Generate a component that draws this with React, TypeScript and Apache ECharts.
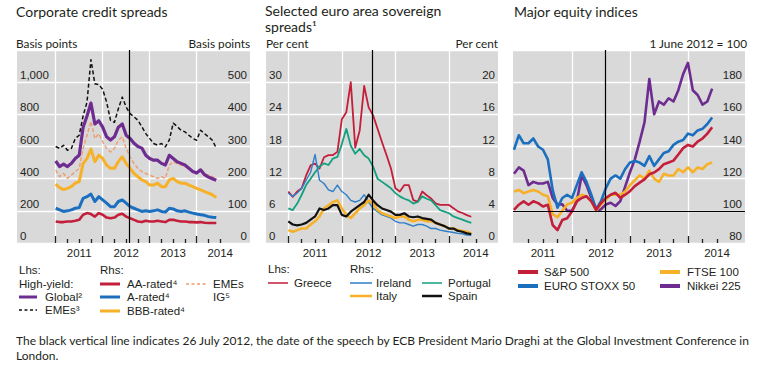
import React, { useEffect, useRef } from "react";
import * as echarts from "echarts";

// ---------- data ----------
const months = [
  "2011-01", "2011-02", "2011-03", "2011-04", "2011-05", "2011-06", "2011-07", "2011-08", "2011-09", "2011-10", "2011-11", "2011-12",
  "2012-01", "2012-02", "2012-03", "2012-04", "2012-05", "2012-06", "2012-07", "2012-08", "2012-09", "2012-10", "2012-11", "2012-12",
  "2013-01", "2013-02", "2013-03", "2013-04", "2013-05", "2013-06", "2013-07", "2013-08", "2013-09", "2013-10", "2013-11", "2013-12",
  "2014-01", "2014-02", "2014-03", "2014-04", "2014-05", "2014-06",
];
const draghiSpeech = "2012-07-26";

// Panel 1: corporate credit spreads (basis points)
const globalHY = [510, 475, 490, 475, 495, 525, 545, 720, 790, 870, 740, 760, 720, 660, 640, 660, 720, 740, 670, 650, 620, 600, 590, 545, 525, 515, 515, 495, 485, 545, 525, 505, 495, 485, 465, 445, 435, 455, 425, 410, 400, 390];
const emesHY = [600, 588, 608, 577, 588, 650, 670, 790, 876, 1140, 990, 985, 955, 876, 763, 750, 835, 907, 845, 804, 784, 763, 722, 680, 650, 619, 608, 619, 598, 640, 745, 725, 701, 691, 670, 650, 639, 701, 680, 660, 639, 590];
const aaRated = [67, 65, 65, 67, 67, 69, 72, 88, 93, 90, 82, 93, 88, 79, 77, 79, 88, 91, 82, 77, 72, 67, 65, 69, 67, 67, 69, 67, 65, 72, 72, 69, 67, 67, 65, 65, 64, 65, 63, 62, 62, 62];
const aRated = [108, 103, 98, 100, 103, 108, 110, 139, 144, 152, 129, 144, 134, 124, 113, 113, 129, 134, 124, 113, 108, 103, 98, 100, 98, 100, 103, 98, 96, 108, 106, 100, 98, 100, 96, 93, 90, 88, 86, 82, 80, 79];
const bbbRated = [183, 172, 166, 170, 175, 186, 191, 247, 263, 292, 253, 273, 263, 242, 232, 232, 253, 268, 247, 232, 216, 206, 196, 191, 180, 180, 186, 175, 175, 196, 201, 191, 186, 186, 180, 175, 170, 165, 160, 155, 150, 141];
const emesIG = [227, 206, 216, 201, 211, 222, 232, 294, 335, 378, 325, 340, 314, 294, 283, 294, 320, 330, 294, 268, 247, 232, 222, 216, 211, 206, 201, 206, 201, 242, 253, 247, 242, 237, 232, 222, 220, 227, 216, 211, 206, 201];

// Panel 2: sovereign spreads (per cent)
const greece = [9.6, 8.6, 9.6, 10.2, 12.6, 14.5, 14.8, 13.9, 16.0, 16.4, 16.4, 17.0, 23.1, 24.4, 30.0, 17.8, 21.0, 29.3, 25.3, 23.8, 21.3, 18.8, 16.4, 13.9, 10.2, 9.6, 10.8, 10.8, 8.0, 7.7, 9.6, 8.9, 8.3, 7.4, 7.1, 7.1, 7.1, 6.5, 5.9, 5.6, 5.2, 4.9];
const ireland = [6.2, 5.8, 6.2, 6.8, 7.8, 8.8, 11.0, 7.8, 7.4, 6.6, 6.4, 7.2, 6.4, 6.0, 5.3, 5.1, 5.3, 6.0, 5.1, 4.3, 3.9, 3.5, 3.3, 3.1, 2.7, 2.5, 2.5, 2.3, 2.1, 2.3, 2.3, 2.1, 1.8, 1.8, 1.6, 1.5, 1.4, 1.3, 1.2, 1.15, 1.0, 0.95];
const italy = [1.6, 1.4, 1.6, 1.8, 1.8, 2.3, 2.7, 3.3, 4.3, 4.7, 5.1, 5.3, 4.3, 3.5, 3.1, 3.7, 4.3, 4.7, 5.3, 4.9, 4.1, 3.7, 3.5, 3.3, 3.1, 3.3, 3.3, 2.9, 2.7, 2.9, 2.9, 2.7, 2.7, 2.5, 2.3, 2.1, 1.8, 1.8, 1.6, 1.5, 1.4, 1.2];
const portugal = [4.3, 4.1, 4.9, 6.0, 7.2, 8.0, 8.8, 9.5, 9.9, 9.7, 10.5, 10.7, 12.3, 14.2, 12.1, 11.1, 11.7, 10.9, 10.5, 9.5, 8.0, 7.6, 7.2, 6.8, 6.2, 5.8, 5.5, 5.3, 4.9, 5.1, 5.8, 5.5, 5.3, 4.7, 4.1, 3.9, 3.7, 3.3, 3.1, 2.9, 2.7, 2.5];
const spain = [2.7, 2.3, 2.2, 2.3, 2.5, 2.9, 3.3, 4.3, 4.1, 4.3, 4.7, 4.7, 3.5, 3.3, 3.9, 4.3, 4.7, 5.1, 6.0, 5.3, 4.7, 4.3, 4.1, 3.9, 3.5, 3.5, 3.7, 3.3, 3.2, 3.3, 3.1, 3.0, 2.9, 2.5, 2.3, 2.1, 1.8, 1.8, 1.5, 1.4, 1.2, 1.1];

// Panel 3: equity indices (1 June 2012 = 100)
const sp500 = [100.6, 103.8, 105.9, 103.8, 105.9, 104.8, 102.7, 103.8, 91.2, 88.0, 94.3, 95.4, 99.6, 105.9, 108, 109, 105.9, 100.6, 104.8, 108, 110, 111.2, 108, 110, 112.2, 115.4, 117.5, 119.6, 122.7, 123.8, 125.9, 129, 130.1, 131.2, 135, 139, 141, 140, 143, 145, 148, 152];
const euroStoxx50 = [138, 147, 142, 142, 145, 140, 138, 132, 113, 102, 108, 110, 108, 116, 124, 118, 110, 101, 106, 114, 120, 122, 120, 126, 130, 131, 130, 128, 134, 128, 132, 136, 137, 141, 143, 144, 148, 147, 150, 151, 154, 158];
const ftse100 = [112, 113, 111, 112, 113, 112, 110, 109, 98, 96, 100, 104, 105, 108, 110, 109, 106, 100, 104, 107, 110, 110, 110, 112, 116, 119, 122, 120, 125, 120, 118, 123, 122, 122, 126, 124, 127, 124, 127, 126, 129, 130];
const nikkei225 = [123, 127, 125, 116, 118, 117, 117, 118, 108, 104, 104, 100, 100, 106, 122, 116, 108, 100, 101, 104, 105, 103, 106, 115, 124, 132, 143, 155, 182, 160, 168, 166, 170, 168, 175, 185, 192, 175, 172, 166, 168, 176];

// Axis ticks / labels (fractional years)
const yearTicks = [2011, 2012, 2013, 2014];
const yearTicksP3 = [2012, 2013, 2014];
const quarterTicks = [2011.25, 2011.5, 2011.75, 2012.25, 2012.5, 2012.75, 2013.25, 2013.5, 2013.75, 2014.25, 2014.5];
const yearLabels = [2011.5, 2012.5, 2013.5, 2014.5];

// ---------- helpers ----------
const toYear = (s: string) => {
  const [y, m, d] = s.split("-").map(Number);
  const dim = new Date(y, m, 0).getDate();
  return y + (m - 1) / 12 + (d ? (d - 1) / dim / 12 : 0);
};
const pairs = (vals: number[]) => months.map((d, i) => [toYear(d), vals[i]]);

const FONT_AX = "'Liberation Sans', Arial, sans-serif";
const FONT_TXT = "Lato, 'Open Sans', sans-serif";
const GRAY = "#D9D9D9";
const TXT = "#231F20";
const C = {
  purple: "#6E2C91",
  black: "#111111",
  red: "#C31E3A",
  blue: "#1C6FBF",
  orange: "#F6B128",
  salmon: "#EE9C6E",
  green: "#12A07F",
  lblue: "#2F7FC9",
};

const GRIDS = [
  { left: 17, top: 50, width: 233, height: 193 },
  { left: 266, top: 50, width: 232, height: 193 },
  { left: 513, top: 50, width: 232, height: 193 },
];
const XR = [
  [2010.177, 2015.134],
  [2010.584, 2014.915],
  [2010.983, 2014.983],
];

function xAxesFor(g: number, yt: number[]) {
  const [min, max] = XR[g];
  const tickStyle = { color: "#222", width: 1.3 };
  return [
    {
      type: "value", gridIndex: g, min, max, position: "bottom",
      axisLine: { show: false },
      axisTick: { show: true, inside: true, length: 7, customValues: yt, lineStyle: tickStyle },
      axisLabel: {
        show: true, customValues: yearLabels, margin: 4, color: TXT, fontSize: 11.5, fontFamily: FONT_AX,
        formatter: (v: number) => String(Math.floor(v)),
      },
      splitLine: { show: true, lineStyle: { color: "#ffffff", width: 1.3 } },
    },
    {
      type: "value", gridIndex: g, min, max, position: "bottom",
      axisLine: { show: false },
      axisTick: { show: true, inside: true, length: 4, customValues: quarterTicks, lineStyle: tickStyle },
      axisLabel: { show: false },
      splitLine: { show: false },
    },
  ];
}

function yAxis(g: number, position: string, min: number, max: number, interval: number, split: boolean, fmt?: (v: number) => string) {
  return {
    type: "value", gridIndex: g, position, min, max, interval,
    axisLine: { show: false }, axisTick: { show: false },
    axisLabel: {
      inside: true, showMaxLabel: false, verticalAlign: "bottom", lineHeight: 14, margin: 3,
      color: TXT, fontSize: 11.5, fontFamily: FONT_AX,
      formatter: fmt || ((v: number) => String(v)),
    },
    splitLine: { show: split, lineStyle: { color: "#ffffff", width: 1.3 } },
  };
}

function line(name: string, vals: number[], xi: number, yi: number, color: string, width: number, type: any = "solid", extra: any = {}) {
  return {
    name, type: "line", xAxisIndex: xi, yAxisIndex: yi, data: pairs(vals),
    showSymbol: false, symbol: "none", silent: true,
    lineStyle: { color, width, type, cap: "butt", join: "round" },
    ...extra,
  };
}

const vline = (extraData: any[] = []) => ({
  silent: true, symbol: "none", label: { show: false },
  lineStyle: { color: "#000", width: 1.2, type: "solid" },
  data: [{ xAxis: toYear(draghiSpeech) }, ...extraData],
});

function txt(x: number, y: number, text: string, o: any = {}) {
  return {
    type: "text", x, y, silent: true,
    style: {
      text, fill: TXT, fontSize: o.size || 11.5, fontFamily: o.font || FONT_AX,
      textAlign: o.align || "left", textVerticalAlign: o.valign || "middle",
      align: o.align || "left", verticalAlign: o.valign || "middle",
      lineHeight: o.lh,
    },
  };
}
function seg(x1: number, x2: number, y: number, stroke: string, lw: number, dash?: number[]) {
  return {
    type: "line", silent: true,
    shape: { x1, y1: y, x2, y2: y },
    style: { stroke, lineWidth: lw, lineDash: dash || null },
  };
}

export default function App() {
  const ref = useRef<HTMLDivElement>(null);
  useEffect(() => {
    document.body.style.margin = "0";
    const chart = echarts.init(ref.current!, null, { renderer: "svg" });
    const TS = 14;
    const US = 11.8;
    const option: any = {
      animation: false,
      backgroundColor: "#ffffff",
      grid: GRIDS.map((g) => ({ ...g, show: true, backgroundColor: GRAY, borderWidth: 0, containLabel: false })),
      xAxis: [...xAxesFor(0, yearTicks), ...xAxesFor(1, yearTicks), ...xAxesFor(2, yearTicksP3)],
      yAxis: [
        yAxis(0, "left", 0, 1200, 200, true, (v) => v.toLocaleString("en-US")),
        yAxis(0, "right", 0, 600, 100, false),
        yAxis(1, "left", 0, 36, 6, true),
        yAxis(1, "right", 0, 24, 4, false),
        yAxis(2, "right", 80, 200, 20, true),
      ],
      series: [
        // panel 1
        line("AA-rated", aaRated, 0, 1, C.red, 2.6),
        line("A-rated", aRated, 0, 1, C.blue, 3),
        line("BBB-rated", bbbRated, 0, 1, C.orange, 3),
        line("EMEs IG", emesIG, 0, 1, C.salmon, 1.4, [4, 2]),
        line("Global", globalHY, 0, 0, C.purple, 3.2),
        line("EMEs", emesHY, 0, 0, C.black, 1.5, [4, 2.5], { markLine: vline() }),
        // panel 2
        line("Greece", greece, 2, 2, C.red, 1.8),
        line("Portugal", portugal, 2, 3, C.green, 1.8),
        line("Ireland", ireland, 2, 3, C.lblue, 1.4),
        line("Italy", italy, 2, 3, C.orange, 2.6),
        line("Spain", spain, 2, 3, C.black, 2.2, "solid", { markLine: vline() }),
        // panel 3
        line("Nikkei 225", nikkei225, 4, 4, C.purple, 2.6),
        line("FTSE 100", ftse100, 4, 4, C.orange, 2.6),
        line("EURO STOXX 50", euroStoxx50, 4, 4, C.blue, 2.6),
        line("S&P 500", sp500, 4, 4, C.red, 2.6, "solid", { markLine: vline([{ yAxis: 100 }]) }),
      ],
      graphic: [
        // titles
        txt(16, 11, "Corporate credit spreads", { size: TS, font: FONT_TXT }),
        txt(265, 10, "Selected euro area sovereign", { size: TS, font: FONT_TXT }),
        txt(265, 26, "spreads¹", { size: TS, font: FONT_TXT }),
        txt(514, 11, "Major equity indices", { size: TS, font: FONT_TXT }),
        // units
        txt(16, 43, "Basis points", { size: US, font: FONT_TXT }),
        txt(250, 43, "Basis points", { size: US, font: FONT_TXT, align: "right" }),
        txt(266, 43, "Per cent", { size: US, font: FONT_TXT }),
        txt(498, 43, "Per cent", { size: US, font: FONT_TXT, align: "right" }),
        txt(747, 43, "1 June 2012 = 100", { size: US, font: FONT_TXT, align: "right" }),
        // legend panel 1
        txt(19, 270, "Lhs:"),
        txt(19, 284, "High-yield:"),
        seg(19, 37, 297, C.purple, 3),
        txt(45, 297, "Global²"),
        seg(19, 37, 310, C.black, 1.3, [3, 2.5]),
        txt(45, 310, "EMEs³"),
        txt(100, 270, "Rhs:"),
        seg(100, 120, 284, C.red, 3),
        txt(127, 284, "AA-rated⁴"),
        seg(100, 120, 297, C.blue, 3),
        txt(127, 297, "A-rated⁴"),
        seg(100, 120, 311, C.orange, 3),
        txt(127, 311, "BBB-rated⁴"),
        seg(186, 208, 284, C.salmon, 1.3, [3, 2.5]),
        txt(213, 284, "EMEs"),
        txt(213, 297, "IG⁵"),
        // legend panel 2
        txt(268, 269, "Lhs:"),
        seg(268, 288, 283, C.red, 1.5),
        txt(294, 283, "Greece"),
        txt(350, 269, "Rhs:"),
        seg(350, 372, 283, C.lblue, 1.5),
        txt(376, 283, "Ireland"),
        seg(422, 442, 283, C.green, 1.5),
        txt(448, 283, "Portugal"),
        seg(350, 372, 296, C.orange, 2.5),
        txt(376, 296, "Italy"),
        seg(422, 442, 296, C.black, 2.5),
        txt(448, 296, "Spain"),
        // legend panel 3
        seg(518, 538, 272, C.red, 4),
        txt(544, 272, "S&P 500"),
        seg(518, 538, 286, C.blue, 4),
        txt(544, 286, "EURO STOXX 50"),
        seg(660, 680, 272, C.orange, 4),
        txt(687, 272, "FTSE 100"),
        seg(660, 680, 286, C.purple, 4),
        txt(687, 286, "Nikkei 225"),
        // footnote
        txt(16, 340, "The black vertical line indicates 26 July 2012, the date of the speech by ECB President Mario Draghi at the Global Investment Conference in", { size: 12, font: FONT_TXT }),
        txt(16, 355, "London.", { size: 12, font: FONT_TXT }),
      ],
    };
    chart.setOption(option);
    return () => chart.dispose();
  }, []);
  return <div ref={ref} style={{ width: 770, height: 372 }} />;
}
